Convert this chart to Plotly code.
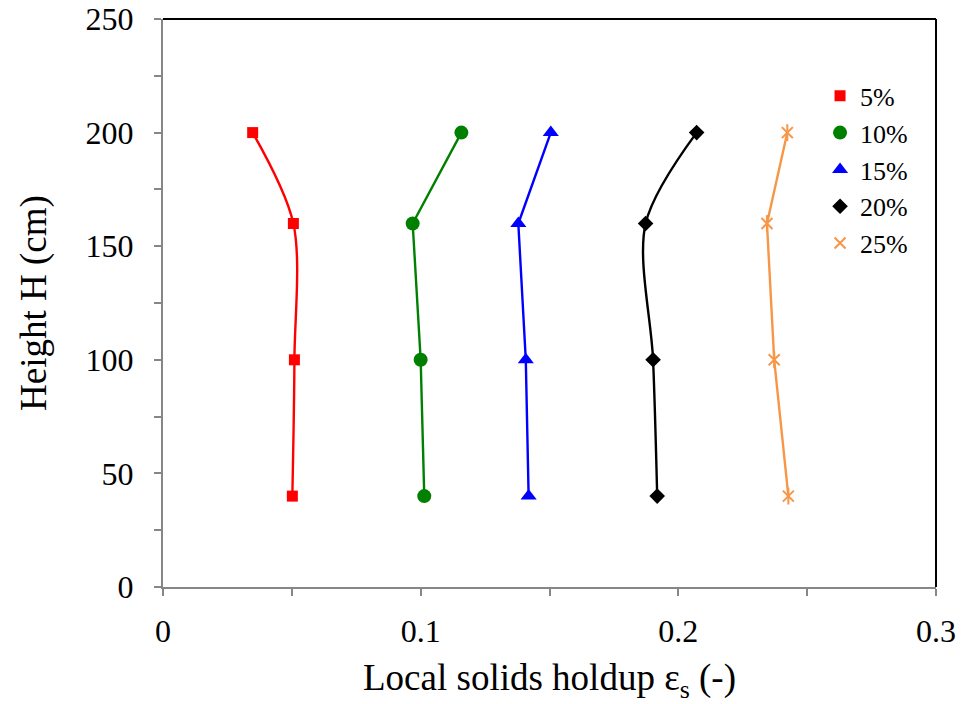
import plotly.graph_objects as go

# Measurement heights (cm)
heights = [40, 100, 160, 200]

# Local solids holdup at each height, one list per solids loading
labels = ["5%", "10%", "15%", "20%", "25%"]
holdup_5 = [0.0502, 0.0510, 0.0506, 0.0348]
holdup_10 = [0.1014, 0.1000, 0.0969, 0.1158]
holdup_15 = [0.1419, 0.1408, 0.1379, 0.1505]
holdup_20 = [0.1918, 0.1902, 0.1873, 0.2071]
holdup_25 = [0.2427, 0.2372, 0.2344, 0.2423]

x_ticks = [0, 0.1, 0.2, 0.3]
x_tick_text = ["0", "0.1", "0.2", "0.3"]
y_ticks = [0, 50, 100, 150, 200, 250]

series = [
    (labels[0], holdup_5, "#FF0000", "square", 11, "spline"),
    (labels[1], holdup_10, "#008000", "circle", 14, "linear"),
    (labels[2], holdup_15, "#0000FF", "triangle-up", 14, "linear"),
    (labels[3], holdup_20, "#000000", "diamond", 12, "spline"),
    (labels[4], holdup_25, "#F79646", "x-thin-open", 11, "linear"),
]

SERIF = "Liberation Serif, Times New Roman, serif"

fig = go.Figure()

for i, (name, xs, color, symbol, size, shape) in enumerate(series):
    # connecting curve
    fig.add_trace(go.Scatter(
        x=xs, y=heights, mode="lines",
        line=dict(color=color, width=2.4, shape=shape, smoothing=0.9),
        showlegend=False, hoverinfo="skip",
    ))
    # markers (also the legend entry)
    mk = dict(symbol=symbol, size=size, color=color)
    if symbol.endswith("open"):
        mk["line"] = dict(color=color, width=2)
    fig.add_trace(go.Scatter(
        x=xs, y=heights, mode="markers", name=name,
        marker=mk, legendgroup=f"g{i}",
    ))
    if symbol == "x-thin-open":
        # vertical stroke completing the star marker
        fig.add_trace(go.Scatter(
            x=xs, y=heights, mode="markers",
            marker=dict(symbol="line-ns-open", size=size + 1, color=color,
                        line=dict(color=color, width=2)),
            showlegend=False, legendgroup=f"g{i}", hoverinfo="skip",
        ))

axis_font = dict(family=SERIF, size=32, color="#000000")
title_font = dict(family=SERIF, size=37, color="#000000")

fig.update_xaxes(
    range=[0, 0.3], tickvals=x_ticks, ticktext=x_tick_text,
    showgrid=False, zeroline=False, automargin=False,
    showline=True, linecolor="#868686", linewidth=2,
    ticks="outside", ticklen=7, tickwidth=2, tickcolor="#868686",
    minor=dict(ticks="outside", ticklen=7, tickwidth=2, tickcolor="#868686", dtick=0.05, showgrid=False),
    tickfont=axis_font, ticklabelstandoff=8,
    title=dict(text="Local solids holdup ε<sub>s</sub> (-)", font=title_font, standoff=16),
)
fig.update_yaxes(
    range=[0, 250], tickvals=y_ticks,
    showgrid=False, zeroline=False, automargin=False,
    showline=True, linecolor="#868686", linewidth=2,
    ticks="outside", ticklen=7, tickwidth=2, tickcolor="#868686",
    minor=dict(ticks="outside", ticklen=7, tickwidth=2, tickcolor="#868686", dtick=25, showgrid=False),
    tickfont=axis_font, ticklabelstandoff=14,
    title=dict(text="Height H (cm)", font=title_font, standoff=28),
)

# top and right frame edges
fig.add_shape(type="line", xref="paper", yref="paper", x0=0, x1=1, y0=1, y1=1,
              line=dict(color="#000000", width=2))
fig.add_shape(type="line", xref="paper", yref="paper", x0=1, x1=1, y0=0, y1=1,
              line=dict(color="#000000", width=2))

fig.update_layout(
    width=961, height=704,
    margin=dict(l=163, r=25, t=19, b=117),
    font=dict(family=SERIF, color="#000000"),
    plot_bgcolor="#FFFFFF", paper_bgcolor="#FFFFFF",
    legend=dict(
        x=0.85, y=0.906, xanchor="left", yanchor="top",
        font=dict(family=SERIF, size=26, color="#000000"),
        bgcolor="rgba(0,0,0,0)", tracegroupgap=0, itemwidth=30,
    ),
)

fig.write_html("out.html")
